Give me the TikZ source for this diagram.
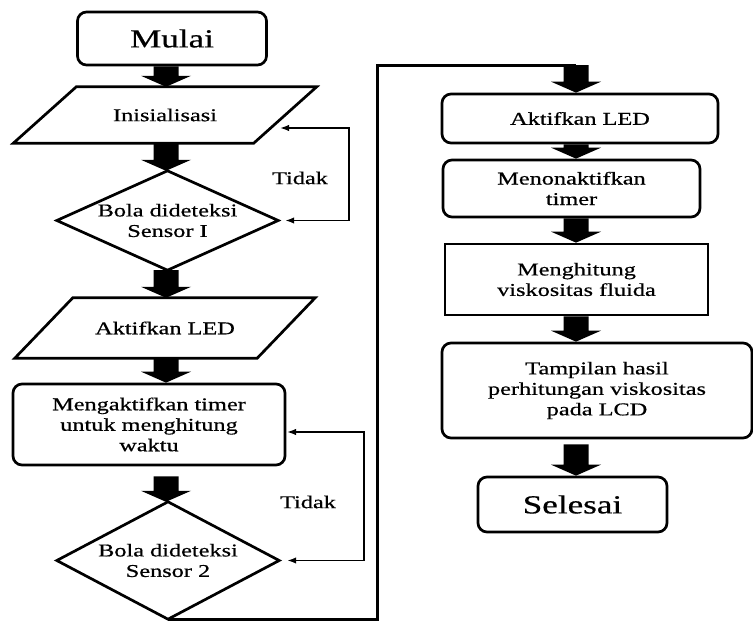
\documentclass[tikz,border=0pt]{standalone}
\usepackage{fontspec}
\setmainfont{Liberation Serif}[FakeStretch=1.35,FakeBold=0.6]
\usetikzlibrary{calc,arrows.meta}
\newcommand{\fatarrow}[2]{%
  \fill let \p1=(#1), \p2=(#2) in
    (\x1-12.5pt,\y1) -- (\x1+12.5pt,\y1) -- (\x1+12.5pt,\y2+11pt) -- (\x1+25pt,\y2+11pt)
    -- (\x1,\y2) -- (\x1-25pt,\y2+11pt) -- (\x1-12.5pt,\y2+11pt) -- cycle;}
\begin{document}
\begin{tikzpicture}[x=1pt,y=-1pt,
  lbl/.style={font=\fontsize{18}{20.5}\selectfont, align=center, inner sep=0pt},
  big/.style={font=\fontsize{26}{30}\selectfont, inner sep=0pt},
  rbox/.style={draw, line width=2.7pt, rounded corners=9pt},
  sbox/.style={draw, line width=2.7pt},
  outl/.style={line width=2.7pt, line join=miter},
  fb/.style={line width=1.7pt, {Latex[length=9pt,width=6.5pt]}-{Latex[length=9pt,width=6.5pt]}},
  conn/.style={line width=3pt, line join=miter}]
\useasboundingbox (0,0) rectangle (753,621);
\coordinate (colL) at (166,0);
\coordinate (colR) at (576,0);

% left column
\node[rbox,big,minimum width=189pt,minimum height=53pt] (mulai) at (172,38.5) {Mulai};

\node[lbl,minimum width=240pt,minimum height=56pt] (ini) at (165,115) {Inisialisasi};
\draw[outl] ([xshift=31.5pt]ini.north west) -- ([xshift=31.5pt]ini.north east)
  -- ([xshift=-31.5pt]ini.south east) -- ([xshift=-31.5pt]ini.south west) -- cycle;

\node[lbl,minimum width=221pt,minimum height=99pt] (d1) at (167.5,220.5) {Bola dideteksi\\Sensor I};
\draw[outl] (d1.north) -- (d1.east) -- (d1.south) -- (d1.west) -- cycle;

\node[lbl,minimum width=242pt,minimum height=60pt] (led1) at (165,328) {Aktifkan LED};
\draw[outl] ([xshift=29pt]led1.north west) -- ([xshift=29pt]led1.north east)
  -- ([xshift=-29pt]led1.south east) -- ([xshift=-29pt]led1.south west) -- cycle;

\node[rbox,lbl,minimum width=272pt,minimum height=81pt] (timer) at (149,424.5) {Mengaktifkan timer\\untuk menghitung\\waktu};

\node[lbl,minimum width=222pt,minimum height=117pt] (d2) at (168,560.5) {Bola dideteksi\\Sensor 2};
\draw[outl] (d2.north) -- (d2.east) -- (d2.south) -- (d2.west) -- cycle;

% right column
\node[rbox,lbl,minimum width=276pt,minimum height=49pt] (led2) at (580,118.5) {Aktifkan LED};
\node[rbox,lbl,minimum width=257pt,minimum height=57pt] (non) at (571.5,188.5) {Menonaktifkan\\timer};
\node[sbox,lbl,minimum width=263pt,minimum height=71pt] (hit) at (576.5,279.5) {Menghitung\\viskositas fluida};
\node[rbox,lbl,minimum width=310pt,minimum height=95pt] (tamp) at (597,390.5) {Tampilan hasil\\perhitungan viskositas\\pada LCD};
\node[rbox,big,minimum width=189pt,minimum height=55pt] (sel) at (572.5,504.5) {Selesai};

% labels
\node[lbl] (t1) at (300,178) {Tidak};
\node[lbl] (t2) at (308,502) {Tidak};

% block arrows
\fatarrow{mulai.south -| colL}{ini.north -| colL}
\fatarrow{ini.south -| colL}{d1.north -| colL}
\fatarrow{d1.south -| colL}{led1.north -| colL}
\fatarrow{led1.south -| colL}{timer.north -| colL}
\fatarrow{$(timer.south -| colL)+(0,10)$}{d2.north -| colL}

\coordinate (c2) at (377,65);
\draw[conn] (d2.south) -| (c2) -- (c2 -| colR);
\fatarrow{c2 -| colR}{led2.north -| colR}
\fatarrow{led2.south -| colR}{non.north -| colR}
\fatarrow{non.south -| colR}{hit.north -| colR}
\fatarrow{hit.south -| colR}{tamp.north -| colR}
\fatarrow{$(tamp.south -| colR)+(0,5)$}{sel.north -| colR}

% feedback loops
\coordinate (inir) at (280,128);
\coordinate (timr) at (287,432);
\draw[fb] ([xshift=7pt]d1.east) -- ++(64,0) |- (inir);
\draw[fb] ([xshift=8pt]d2.east) -- ++(77,0) |- (timr);
\end{tikzpicture}
\end{document}
